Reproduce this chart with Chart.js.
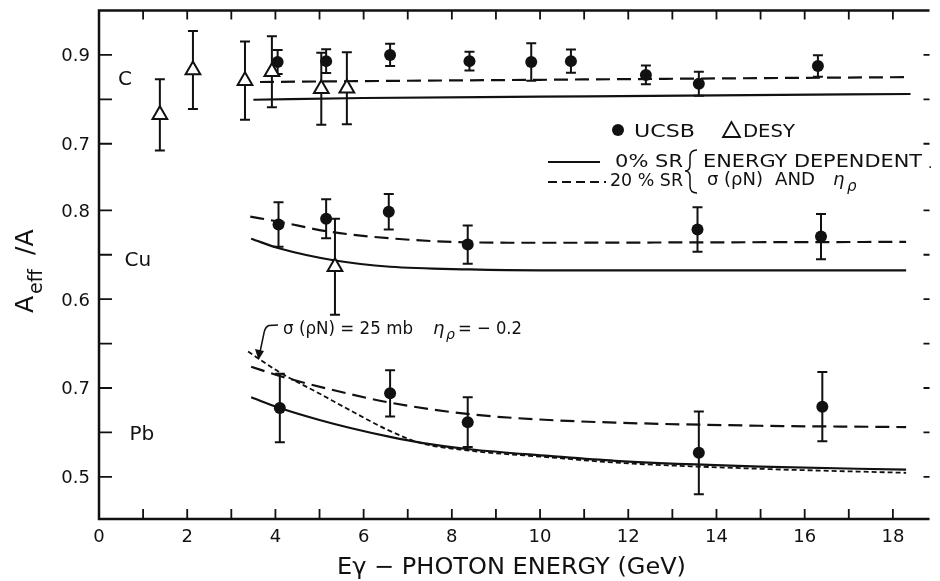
<!DOCTYPE html>
<html><head><meta charset="utf-8">
<script src="https://cdn.jsdelivr.net/npm/chart.js@4/dist/chart.umd.min.js"></script>
<style>html,body{margin:0;padding:0;background:#fff;}canvas{display:block;}</style>
</head><body>
<canvas id="c" width="940" height="581"></canvas>
<script>
// ---------------- DATA ----------------
// Carbon
const energyC_UCSB = [4.05, 5.15, 6.6, 8.4, 9.8, 10.7, 12.4, 13.6, 16.3];
const aeffC_UCSB   = [0.884, 0.886, 0.900, 0.886, 0.884, 0.886, 0.855, 0.835, 0.875];
const errC_UCSB    = [0.027, 0.027, 0.025, 0.021, 0.042, 0.026, 0.021, 0.027, 0.024];
const energyC_DESY = [1.38, 2.13, 3.31, 3.92, 5.04, 5.62];
const aeffC_DESY   = [0.765, 0.866, 0.842, 0.862, 0.824, 0.825];
const errC_DESY    = [0.080, 0.088, 0.088, 0.080, 0.081, 0.081];
// Copper
const energyCu_UCSB = [4.07, 5.15, 6.57, 8.36, 13.57, 16.37];
const aeffCu_UCSB   = [0.768, 0.781, 0.797, 0.723, 0.757, 0.741];
const errCu_UCSB    = [0.050, 0.044, 0.040, 0.043, 0.050, 0.051];
const energyCu_DESY = [5.35];
const aeffCu_DESY   = [0.673];
const errCu_DESY    = [0.108];
// Lead
const energyPb_UCSB = [4.1, 6.6, 8.36, 13.6, 16.4];
const aeffPb_UCSB   = [0.655, 0.688, 0.623, 0.554, 0.658];
const errPb_UCSB    = [0.077, 0.052, 0.056, 0.093, 0.078];

// Model curves: 0% SR (solid), 20% SR (dashed), sigma=25mb eta=-0.2 (short dash)
const curveC_E0   = [3.5, 6, 10, 14, 18.4];
const curveC_SR0  = [0.799, 0.803, 0.806, 0.809, 0.812];
const curveC_E20  = [3.65, 6, 10, 14, 18.4];
const curveC_SR20 = [0.839, 0.841, 0.844, 0.847, 0.850];
const curveCu_E0   = [3.45, 4.1, 5.35, 6.6, 8.4, 10, 14, 18.3];
const curveCu_SR0  = [0.736, 0.714, 0.687, 0.673, 0.667, 0.665, 0.665, 0.665];
const curveCu_E20  = [3.43, 4.1, 5.17, 6.6, 8.4, 10, 14, 18.3];
const curveCu_SR20 = [0.786, 0.774, 0.753, 0.737, 0.728, 0.727, 0.728, 0.729];
const curvePb_E0   = [3.45, 4.1, 5.0, 5.7, 6.6, 7.35, 8.4, 10.2, 11.7, 15, 18.3];
const curvePb_SR0  = [0.679, 0.655, 0.628, 0.610, 0.590, 0.576, 0.562, 0.547, 0.536, 0.523, 0.516];
const curvePb_E20  = [3.45, 4.1, 5.2, 6.6, 8.4, 10, 11.7, 15, 18.3];
const curvePb_SR20 = [0.748, 0.727, 0.698, 0.667, 0.641, 0.629, 0.622, 0.615, 0.612];
const curvePb_Esig = [3.38, 4.1, 4.95, 5.69, 6.58, 7.3, 8.4, 10.2, 11.7, 15, 18.3];
const curvePb_Sig  = [0.782, 0.735, 0.690, 0.650, 0.604, 0.576, 0.559, 0.544, 0.532, 0.518, 0.509];

// Tick values and labels
const yTicksC  = [0.9, 0.8, 0.7];       const yTickLabelsC  = ['0.9', '', '0.7'];
const yTicksCu = [0.8, 0.7, 0.6];       const yTickLabelsCu = ['0.8', '', '0.6'];
const yTicksPb = [0.8, 0.7, 0.6, 0.5];  const yTickLabelsPb = ['', '0.7', '', '0.5'];
const xTickLabels = ['0','2','4','6','8','10','12','14','16','18'];

// ---------------- STYLE / LAYOUT ----------------
const INK = '#111';
const FONT = "'DejaVu Sans', 'Liberation Sans', sans-serif";
const pts = (xs, ys) => xs.map((x, i) => ({x: x, y: ys[i]}));

function markerSet(label, xs, ys, errs, axis, kind) {
  const tri = kind === 'tri';
  return {
    label, data: pts(xs, ys), errors: errs, yAxisID: axis, showLine: false,
    pointStyle: tri ? 'triangle' : 'circle', pointRadius: tri ? 8.5 : 6,
    backgroundColor: tri ? '#fff' : INK, borderColor: INK, borderWidth: tri ? 2 : 0,
    order: 0
  };
}
function curveSet(label, xs, ys, axis, dash) {
  return {
    label, data: pts(xs, ys), yAxisID: axis, showLine: true, pointRadius: 0,
    borderColor: INK, borderWidth: dash.length && dash[0] < 8 ? 1.8 : 2.2, borderDash: dash,
    cubicInterpolationMode: 'monotone', fill: false, order: 2
  };
}
const DASH_LONG = [14, 7];
const DASH_SHORT = [5, 3];

const datasets = [
  curveSet('C 0% SR', curveC_E0, curveC_SR0, 'yC', []),
  curveSet('C 20% SR', curveC_E20, curveC_SR20, 'yC', DASH_LONG),
  curveSet('Cu 0% SR', curveCu_E0, curveCu_SR0, 'yCu', []),
  curveSet('Cu 20% SR', curveCu_E20, curveCu_SR20, 'yCu', DASH_LONG),
  curveSet('Pb 0% SR', curvePb_E0, curvePb_SR0, 'yPb', []),
  curveSet('Pb 20% SR', curvePb_E20, curvePb_SR20, 'yPb', DASH_LONG),
  curveSet('Pb sigma=25mb', curvePb_Esig, curvePb_Sig, 'yPb', DASH_SHORT),
  markerSet('C UCSB', energyC_UCSB, aeffC_UCSB, errC_UCSB, 'yC', 'dot'),
  markerSet('C DESY', energyC_DESY, aeffC_DESY, errC_DESY, 'yC', 'tri'),
  markerSet('Cu UCSB', energyCu_UCSB, aeffCu_UCSB, errCu_UCSB, 'yCu', 'dot'),
  markerSet('Cu DESY', energyCu_DESY, aeffCu_DESY, errCu_DESY, 'yCu', 'tri'),
  markerSet('Pb UCSB', energyPb_UCSB, aeffPb_UCSB, errPb_UCSB, 'yPb', 'dot')
];

const panels = [
  {axis: 'yC',  ticks: yTicksC,  labels: yTickLabelsC,  name: 'C',  nameAt: {x: 0.43, y: 0.832}},
  {axis: 'yCu', ticks: yTicksCu, labels: yTickLabelsCu, name: 'Cu', nameAt: {x: 0.58, y: 0.674}},
  {axis: 'yPb', ticks: yTicksPb, labels: yTickLabelsPb, name: 'Pb', nameAt: {x: 0.69, y: 0.583}}
];

// draw text scaled horizontally to span [x0,x1], on baseline yb
function fitText(ctx, text, x0, x1, yb, size, style) {
  ctx.save();
  ctx.font = (style || '') + ' ' + size + 'px ' + FONT;
  ctx.textBaseline = 'alphabetic'; ctx.textAlign = 'left'; ctx.fillStyle = INK;
  const w = ctx.measureText(text).width;
  ctx.translate(x0, yb); ctx.scale((x1 - x0) / w, 1);
  ctx.fillText(text, 0, 0);
  ctx.restore();
}
function plainText(ctx, text, x, yb, size, style, align) {
  ctx.save();
  ctx.font = (style || '') + ' ' + size + 'px ' + FONT;
  ctx.textBaseline = 'alphabetic'; ctx.textAlign = align || 'left'; ctx.fillStyle = INK;
  ctx.fillText(text, x, yb);
  ctx.restore();
}

const errorBars = {
  id: 'errorBars',
  beforeDatasetsDraw(chart) {
    const ctx = chart.ctx, xs = chart.scales.x;
    chart.data.datasets.forEach(ds => {
      if (!ds.errors) return;
      const ys = chart.scales[ds.yAxisID];
      ctx.save(); ctx.strokeStyle = INK; ctx.lineWidth = 2;
      ds.data.forEach((p, j) => {
        const e = ds.errors[j], x = xs.getPixelForValue(p.x);
        const y1 = ys.getPixelForValue(p.y + e), y2 = ys.getPixelForValue(p.y - e);
        ctx.beginPath();
        ctx.moveTo(x, y1); ctx.lineTo(x, y2);
        ctx.moveTo(x - 5, y1); ctx.lineTo(x + 5, y1);
        ctx.moveTo(x - 5, y2); ctx.lineTo(x + 5, y2);
        ctx.stroke();
      });
      ctx.restore();
    });
  }
};

const frameAndText = {
  id: 'frameAndText',
  afterDraw(chart) {
    const ctx = chart.ctx, a = chart.chartArea, xs = chart.scales.x;
    ctx.save();
    ctx.strokeStyle = INK; ctx.lineCap = 'butt';
    // frame: left, top, bottom
    ctx.lineWidth = 2.5;
    ctx.beginPath();
    ctx.moveTo(a.right, a.top); ctx.lineTo(a.left, a.top); ctx.lineTo(a.left, a.bottom); ctx.lineTo(a.right, a.bottom);
    ctx.stroke();
    // x inward ticks (every GeV), top and bottom
    ctx.lineWidth = 1.8;
    ctx.beginPath();
    for (let v = 1; v <= Math.floor(xs.max); v++) {
      const x = xs.getPixelForValue(v);
      ctx.moveTo(x, a.bottom); ctx.lineTo(x, a.bottom - 10);
      ctx.moveTo(x, a.top); ctx.lineTo(x, a.top + 9);
    }
    ctx.stroke();
    // y ticks + labels for each panel
    panels.forEach(p => {
      const ys = chart.scales[p.axis];
      p.ticks.forEach((v, i) => {
        const y = ys.getPixelForValue(v);
        ctx.beginPath();
        ctx.moveTo(a.left, y); ctx.lineTo(a.left + 13, y);
        ctx.moveTo(a.right, y); ctx.lineTo(a.right - 6, y);
        ctx.stroke();
        if (p.labels[i]) plainText(ctx, p.labels[i], a.left - 9, y + 6.5, 18, '', 'right');
      });
      plainText(ctx, p.name, xs.getPixelForValue(p.nameAt.x), ys.getPixelForValue(p.nameAt.y), 20, '');
    });

    // Legend
    ctx.fillStyle = INK;
    ctx.beginPath(); ctx.arc(618, 130, 6, 0, Math.PI * 2); ctx.fill();
    fitText(ctx, 'UCSB', 634, 695, 137, 17, '');
    ctx.lineWidth = 1.8; ctx.fillStyle = '#fff';
    ctx.beginPath(); ctx.moveTo(731.5, 122); ctx.lineTo(723, 137); ctx.lineTo(740, 137); ctx.closePath(); ctx.fill(); ctx.stroke();
    fitText(ctx, 'DESY', 743, 795, 137, 17, '');
    ctx.lineWidth = 2;
    ctx.beginPath(); ctx.moveTo(548, 162); ctx.lineTo(600, 162); ctx.stroke();
    ctx.setLineDash([9, 5]);
    ctx.beginPath(); ctx.moveTo(548, 182); ctx.lineTo(606, 182); ctx.stroke();
    ctx.setLineDash([]);
    fitText(ctx, '0% SR', 615, 683, 166.5, 18, '');
    fitText(ctx, '20 % SR', 610, 683, 186, 18, '');
    // brace
    ctx.lineWidth = 1.5;
    ctx.beginPath();
    ctx.moveTo(697, 150);
    ctx.quadraticCurveTo(690, 150, 690, 157);
    ctx.lineTo(690, 165);
    ctx.quadraticCurveTo(690, 171, 685, 171);
    ctx.quadraticCurveTo(690, 171, 690, 177);
    ctx.lineTo(690, 186);
    ctx.quadraticCurveTo(690, 193, 697, 193);
    ctx.stroke();
    fitText(ctx, 'ENERGY DEPENDENT', 703, 922, 166.5, 18, '');
    plainText(ctx, '.', 928, 168, 14, '');
    fitText(ctx, 'σ (ρN)', 707, 763, 185, 18, '');
    fitText(ctx, 'AND', 775, 815, 185, 18, '');
    plainText(ctx, 'η', 833, 185, 18, 'italic');
    plainText(ctx, 'ρ', 847, 191, 15, 'italic');

    // Annotation on the Pb panel
    fitText(ctx, 'σ (ρN) = 25 mb', 283, 413, 333.5, 18, '');
    plainText(ctx, 'η', 433, 333.5, 18, 'italic');
    plainText(ctx, 'ρ', 446, 339, 14, 'italic');
    fitText(ctx, '= − 0.2', 458, 522, 333.5, 18, '');
    ctx.lineWidth = 1.5; ctx.strokeStyle = INK; ctx.fillStyle = INK;
    ctx.beginPath();
    ctx.moveTo(278, 325); ctx.lineTo(269, 325.5);
    ctx.quadraticCurveTo(265, 327, 264, 333);
    ctx.lineTo(260, 352);
    ctx.stroke();
    ctx.beginPath(); ctx.moveTo(258.5, 360); ctx.lineTo(255, 349); ctx.lineTo(264, 351); ctx.closePath(); ctx.fill();

    // Axis titles
    fitText(ctx, 'Eγ − PHOTON ENERGY (GeV)', 337, 686, 574, 23, '');
    ctx.save();
    ctx.translate(33, 313); ctx.rotate(-Math.PI / 2);
    ctx.font = '25px ' + FONT; ctx.fillStyle = INK; ctx.textBaseline = 'alphabetic';
    ctx.fillText('A', 0, 0);
    ctx.font = '19px ' + FONT;
    ctx.fillText('eff', 19, 9);
    ctx.font = '25px ' + FONT;
    ctx.fillText('/A', 58, 0);
    ctx.restore();

    ctx.restore();
  }
};

new Chart(document.getElementById('c'), {
  type: 'scatter',
  data: {datasets},
  options: {
    responsive: false, animation: false, devicePixelRatio: 1, events: [],
    layout: {padding: {left: 99, top: 10, right: 0, bottom: 0}},
    plugins: {legend: {display: false}, tooltip: {enabled: false}, title: {display: false}},
    scales: {
      x: {
        type: 'linear', min: 0, max: 18.83, position: 'bottom',
        grid: {display: false, drawTicks: false},
        border: {display: false},
        ticks: {
          stepSize: 1, includeBounds: false, autoSkip: false, maxRotation: 0, padding: 8,
          color: INK, font: {family: FONT, size: 18},
          callback: (v) => (Number.isInteger(v) && v % 2 === 0) ? xTickLabels[v / 2] : ''
        },
        afterFit: (s) => { s.height = 62; }
      },
      yC:  {type: 'linear', display: false, min: -0.145, max: 1.0},
      yCu: {type: 'linear', display: false, min: 0.105, max: 1.25},
      yPb: {type: 'linear', display: false, min: 0.405, max: 1.55}
    }
  },
  plugins: [errorBars, frameAndText]
});
</script>
</body></html>
